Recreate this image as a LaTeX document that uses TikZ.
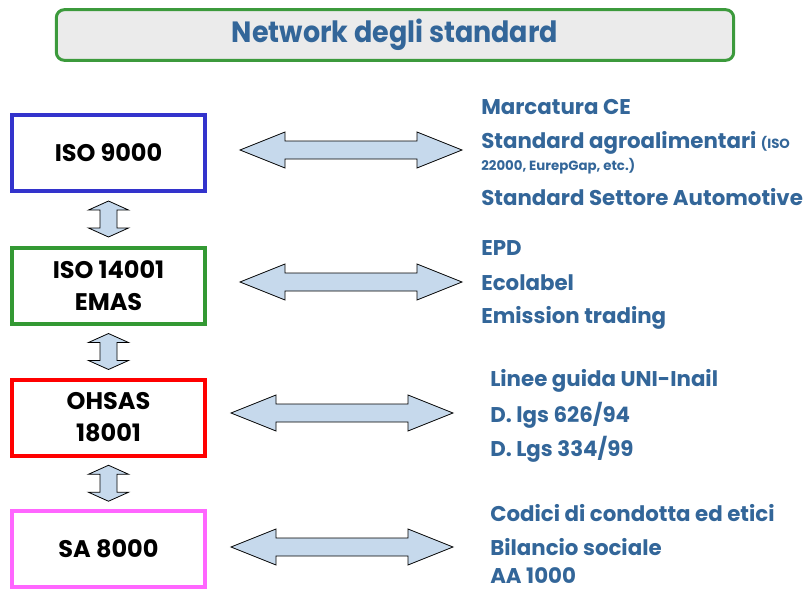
\documentclass[tikz,border=0pt]{standalone}
\usepackage{fontspec}
\setmainfont{Poppins}
\newfontfamily\titlefont[FakeStretch=0.92]{Poppins}
\usetikzlibrary{positioning,calc}

\definecolor{titlegreen}{HTML}{3C9A3C}
\definecolor{titlegray}{HTML}{EBEBEB}
\definecolor{stdblue}{HTML}{3333CC}
\definecolor{stdgreen}{HTML}{339933}
\definecolor{stdred}{HTML}{FF0000}
\definecolor{stdpink}{HTML}{FF66FF}
\definecolor{textblue}{HTML}{336699}
\definecolor{arrowblue}{HTML}{C6D9EC}

\tikzset{
  fatarrow/.style={draw=black,fill=arrowblue,line width=0.6pt,line join=miter},
  harr/.pic={\draw[fatarrow] (-111,0) -- ++(45,-18) -- ++(0,9) -- ++(132,0) -- ++(0,-9)
    -- ++(45,18) -- ++(-45,18) -- ++(0,-9) -- ++(-132,0) -- ++(0,9) -- cycle;},
  varr/.pic={\draw[fatarrow] (0,-18) -- ++(20,9) -- ++(-11.5,0) -- ++(0,18) -- ++(11.5,0)
    -- ++(-20,9) -- ++(-20,-9) -- ++(11.5,0) -- ++(0,-18) -- ++(-11.5,0) -- cycle;}
}

\begin{document}
\begin{tikzpicture}[x=0.75pt,y=-0.75pt,
  stdbox/.style={draw,line width=3pt,minimum width=144.75pt,minimum height=57pt,
    align=center,inner sep=0pt,font=\bfseries\fontsize{18}{24}\selectfont},
  item/.style={anchor=west,inner sep=0pt,text=textblue,font=\bfseries\fontsize{16}{18}\selectfont}]
\useasboundingbox (0,0) rectangle (809,589);

% title
\node[draw=titlegreen,line width=2.25pt,fill=titlegray,rounded corners=6pt,
  minimum width=508pt,minimum height=38pt,text=textblue,
  font=\titlefont\bfseries\fontsize{22}{24}\selectfont] (title) at (395,35) {Network degli standard};

% standards
\node[stdbox,draw=stdblue]  (iso9)  at (108.5,152.5) {ISO 9000};
\node[stdbox,draw=stdgreen] (iso14) at (108.5,285.5) {ISO 14001\\EMAS};
\node[stdbox,draw=stdred]   (ohsas) at (108.5,417.5) {OHSAS\\18001};
\node[stdbox,draw=stdpink]  (sa)    at (108.5,549)   {SA 8000};

\pic at ($(iso9)!0.5!(iso14)$) {varr};
\pic at ($(iso14)!0.5!(ohsas)$) {varr};
\pic at ($(ohsas)!0.5!(sa)$) {varr};

% related standards
\node[item] (ce)    at (481,107) {Marcatura CE};
\node[item] (agro)  at (481,143) {Standard agroalimentari {\fontsize{10}{12}\selectfont(ISO}};
\node[item,font=\bfseries\fontsize{10}{12}\selectfont] (agrob) at (481,166) {22000, EurepGap, etc.)};
\node[item] (auto)  at (481,197) {Standard Settore Automotive};

\node[item] (epd)   at (481,248) {EPD};
\node[item] (eco)   at (481,283) {Ecolabel};
\node[item] (emis)  at (481,318) {Emission trading};

\node[item] (uni)   at (490,381) {Linee guida UNI-Inail};
\node[item] (dl1)   at (490,415) {D. lgs 626/94};
\node[item] (dl2)   at (490,449) {D. Lgs 334/99};

\node[item] (cod)   at (490,513) {Codici di condotta ed etici};
\node[item] (bil)   at (490,547) {Bilancio sociale};
\node[item] (aa)    at (490,576) {AA 1000};

\pic at (351,150) {harr};
\pic at (351,282) {harr};
\pic at (342,413) {harr};
\pic at (342,547) {harr};
\end{tikzpicture}
\end{document}
